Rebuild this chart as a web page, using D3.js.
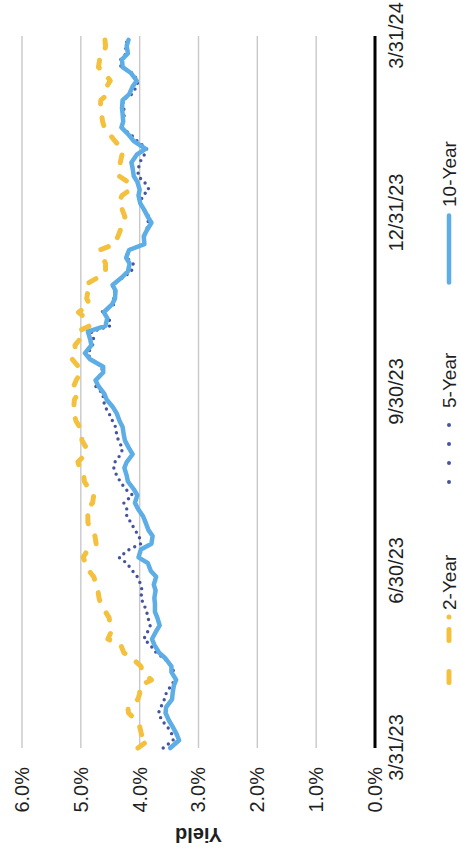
<!DOCTYPE html>
<html>
<head>
<meta charset="utf-8">
<script src="https://cdn.jsdelivr.net/npm/d3@7"></script>
<style>
  html, body { margin: 0; padding: 0; background: #fff; }
  svg { display: block; }
  text { font-family: "Liberation Sans", Arial, sans-serif; fill: #1f1f1f; }
</style>
</head>
<body>
<div id="chart"></div>
<script>
// Treasury yields (%), sampled twice a week, 3/31/23 – 3/29/24
const dates = [
  "2023-03-31","2023-04-04","2023-04-07","2023-04-11","2023-04-14","2023-04-18","2023-04-21","2023-04-25",
  "2023-04-28","2023-05-02","2023-05-05","2023-05-09","2023-05-12","2023-05-16","2023-05-19","2023-05-23",
  "2023-05-26","2023-05-30","2023-06-02","2023-06-06","2023-06-09","2023-06-13","2023-06-16","2023-06-20",
  "2023-06-23","2023-06-27","2023-06-30","2023-07-04","2023-07-07","2023-07-11","2023-07-14","2023-07-18",
  "2023-07-21","2023-07-25","2023-07-28","2023-08-01","2023-08-04","2023-08-08","2023-08-11","2023-08-15",
  "2023-08-18","2023-08-22","2023-08-25","2023-08-29","2023-09-01","2023-09-05","2023-09-08","2023-09-12",
  "2023-09-15","2023-09-19","2023-09-22","2023-09-26","2023-09-29","2023-10-03","2023-10-06","2023-10-10",
  "2023-10-13","2023-10-17","2023-10-20","2023-10-24","2023-10-27","2023-10-31","2023-11-03","2023-11-07",
  "2023-11-10","2023-11-14","2023-11-17","2023-11-21","2023-11-24","2023-11-28","2023-12-01","2023-12-05",
  "2023-12-08","2023-12-12","2023-12-15","2023-12-19","2023-12-22","2023-12-26","2023-12-29","2024-01-02",
  "2024-01-05","2024-01-09","2024-01-12","2024-01-16","2024-01-19","2024-01-23","2024-01-26","2024-01-30",
  "2024-02-02","2024-02-06","2024-02-09","2024-02-13","2024-02-16","2024-02-20","2024-02-23","2024-02-27",
  "2024-03-01","2024-03-05","2024-03-08","2024-03-12","2024-03-15","2024-03-19","2024-03-22","2024-03-26",
  "2024-03-29"
];

const twoYear = [
  4.03,3.85,3.97,4.00,4.05,4.19,4.20,4.03, 4.00,4.00,3.80,3.95,3.98,4.12,4.27,4.32,
  4.54,4.48,4.50,4.52,4.58,4.66,4.69,4.71, 4.74,4.78,4.86,4.92,4.96,4.88,4.74,4.76,
  4.84,4.88,4.88,4.90,4.80,4.78,4.86,4.94, 4.95,5.02,5.05,4.92,4.90,4.98,4.99,5.02,
  5.08,5.12,5.12,5.11,5.05,5.12,5.08,5.00, 5.04,5.15,5.08,5.10,5.02,5.06,4.85,4.92,
  5.04,4.85,4.90,4.88,4.93,4.70,4.58,4.58, 4.62,4.68,4.42,4.37,4.33,4.30,4.25,4.30,
  4.36,4.30,4.16,4.20,4.35,4.34,4.33,4.30, 4.30,4.42,4.50,4.60,4.63,4.65,4.67,4.66,
  4.55,4.56,4.50,4.60,4.70,4.68,4.60,4.58, 4.59
];

const fiveYear = [
  3.60,3.43,3.45,3.53,3.62,3.68,3.64,3.58, 3.55,3.47,3.40,3.42,3.45,3.58,3.72,3.82,
  3.93,3.86,3.82,3.86,3.88,3.93,3.98,3.96, 3.98,4.04,4.12,4.22,4.35,4.18,3.98,4.01,
  4.08,4.15,4.22,4.22,4.27,4.12,4.24,4.33, 4.39,4.44,4.42,4.32,4.29,4.36,4.39,4.41,
  4.46,4.52,4.58,4.62,4.62,4.75,4.74,4.64, 4.64,4.84,4.88,4.80,4.78,4.82,4.50,4.52,
  4.65,4.44,4.44,4.42,4.47,4.28,4.14,4.11, 4.22,4.20,3.91,3.93,3.88,3.86,3.84,3.93,
  3.99,3.95,3.84,3.92,4.03,4.02,4.00,3.92, 3.88,4.04,4.14,4.31,4.28,4.26,4.27,4.29,
  4.14,4.05,4.03,4.13,4.32,4.32,4.23,4.24, 4.21
];

const tenYear = [
  3.48,3.33,3.37,3.44,3.50,3.56,3.55,3.45, 3.44,3.42,3.38,3.46,3.46,3.56,3.67,3.75,
  3.79,3.72,3.66,3.70,3.74,3.74,3.75,3.73, 3.76,3.72,3.81,3.86,4.02,3.98,3.80,3.78,
  3.85,3.90,3.94,4.03,4.08,4.04,4.10,4.20, 4.22,4.26,4.22,4.12,4.18,4.25,4.27,4.29,
  4.34,4.39,4.45,4.56,4.60,4.70,4.75,4.62, 4.62,4.85,4.93,4.82,4.84,4.88,4.58,4.55,
  4.61,4.47,4.42,4.41,4.46,4.30,4.20,4.17, 4.23,4.18,3.92,3.93,3.88,3.80,3.86,3.93,
  3.99,4.02,4.00,4.04,4.10,4.12,4.14,4.05, 3.90,4.10,4.18,4.31,4.28,4.29,4.30,4.29,
  4.18,4.12,4.05,4.15,4.29,4.30,4.20,4.22, 4.19
];

const seriesNames = ["2-Year", "5-Year", "10-Year"];
const dateTicks = ["2023-03-31", "2023-06-30", "2023-09-30", "2023-12-31", "2024-03-31"];
const yieldTicks = [0, 1, 2, 3, 4, 5, 6];

const W = 461, H = 854;
const parse = d3.timeParse("%Y-%m-%d");

const svg = d3.select("#chart").append("svg")
  .attr("width", W).attr("height", H);

// The chart is laid out landscape (854 wide, 461 tall) and turned a quarter turn
const g = svg.append("g").attr("transform", `translate(0,${H}) rotate(-90)`);

const x = d3.scaleTime()
  .domain([parse("2023-03-31"), parse("2024-03-31")])
  .range([106, 818]);
const y = d3.scaleLinear().domain([0, 6]).range([375, 22]);

// gridlines
g.append("g").selectAll("line")
  .data(yieldTicks.filter(t => t > 0))
  .join("line")
  .attr("x1", x.range()[0]).attr("x2", x.range()[1])
  .attr("y1", d => y(d)).attr("y2", d => y(d))
  .attr("stroke", "#c8c8c8").attr("stroke-width", 1.4);

// y axis labels
const yAxis = d3.axisLeft(y)
  .tickValues(yieldTicks)
  .tickFormat(d => d.toFixed(1) + "%")
  .tickSize(0).tickPadding(19);
g.append("g").attr("transform", `translate(${x.range()[0]},0)`)
  .call(yAxis)
  .call(a => a.select(".domain").remove())
  .call(a => a.selectAll("text")
    .style("font-size", "20px")
    .style("font-family", "'Liberation Sans', Arial, sans-serif")
    .attr("fill", "#1f1f1f"));

// date axis
const xAxis = d3.axisBottom(x)
  .tickValues(dateTicks.map(parse))
  .tickFormat(d3.timeFormat("%-m/%-d/%y"))
  .tickSize(0).tickSizeOuter(0).tickPadding(14);
g.append("g").attr("transform", `translate(0,${y(0)})`)
  .call(xAxis)
  .call(a => a.select(".domain").remove())
  .call(a => a.selectAll("text")
    .style("font-size", "20px")
    .style("font-family", "'Liberation Sans', Arial, sans-serif")
    .attr("fill", "#1f1f1f"));

// baseline at 0%
g.append("line")
  .attr("x1", x.range()[0]).attr("x2", x.range()[1])
  .attr("y1", y(0)).attr("y2", y(0))
  .attr("stroke", "#000").attr("stroke-width", 3);

// axis title
g.append("text")
  .attr("transform", "rotate(-90)")
  .attr("x", -(y(0) + y(6)) / 2).attr("y", 26)
  .attr("text-anchor", "middle")
  .style("font-size", "20px").style("font-weight", "bold")
  .text("Yield");

// series
const rows = dates.map((d, i) => ({ date: parse(d), two: twoYear[i], five: fiveYear[i], ten: tenYear[i] }));
const line = key => d3.line().x(d => x(d.date)).y(d => y(d[key])).curve(d3.curveLinear)(rows);

const styles = [
  { key: "two",  color: "#f4c13f", width: 5,   dash: "8,14",  cap: "round" },
  { key: "five", color: "#44549e", width: 3.4, dash: "0,6.5", cap: "round" },
  { key: "ten",  color: "#5dade6", width: 4.5, dash: null,    cap: "round" }
];

styles.forEach(s => {
  g.append("path")
    .attr("d", line(s.key))
    .attr("fill", "none")
    .attr("stroke", s.color)
    .attr("stroke-width", s.width)
    .attr("stroke-linecap", s.cap)
    .attr("stroke-linejoin", "round")
    .attr("stroke-dasharray", s.dash);
});

// legend
const legY = 449;
const legFont = "19px";
const leg = g.append("g");
// 2-Year: long dashes and a dot
leg.append("line")
  .attr("x1", 171.5).attr("x2", 241).attr("y1", legY).attr("y2", legY)
  .attr("stroke", styles[0].color).attr("stroke-width", 5)
  .attr("stroke-linecap", "round")
  .attr("stroke-dasharray", "11,31,11,12.5,0,100");
leg.append("text").attr("x", 244).attr("y", legY + 6.5)
  .style("font-size", legFont).text(seriesNames[0]);
// 5-Year: dots
leg.append("line")
  .attr("x1", 372).attr("x2", 432).attr("y1", legY).attr("y2", legY)
  .attr("stroke", styles[1].color).attr("stroke-width", 4)
  .attr("stroke-linecap", "round")
  .attr("stroke-dasharray", "0,19");
leg.append("text").attr("x", 446).attr("y", legY + 6.5)
  .style("font-size", legFont).text(seriesNames[1]);
// 10-Year: solid
leg.append("line")
  .attr("x1", 571.5).attr("x2", 638.5).attr("y1", legY).attr("y2", legY)
  .attr("stroke", styles[2].color).attr("stroke-width", 4.5)
  .attr("stroke-linecap", "round");
leg.append("text").attr("x", 647).attr("y", legY + 6.5)
  .style("font-size", legFont).text(seriesNames[2]);
</script>
</body>
</html>
